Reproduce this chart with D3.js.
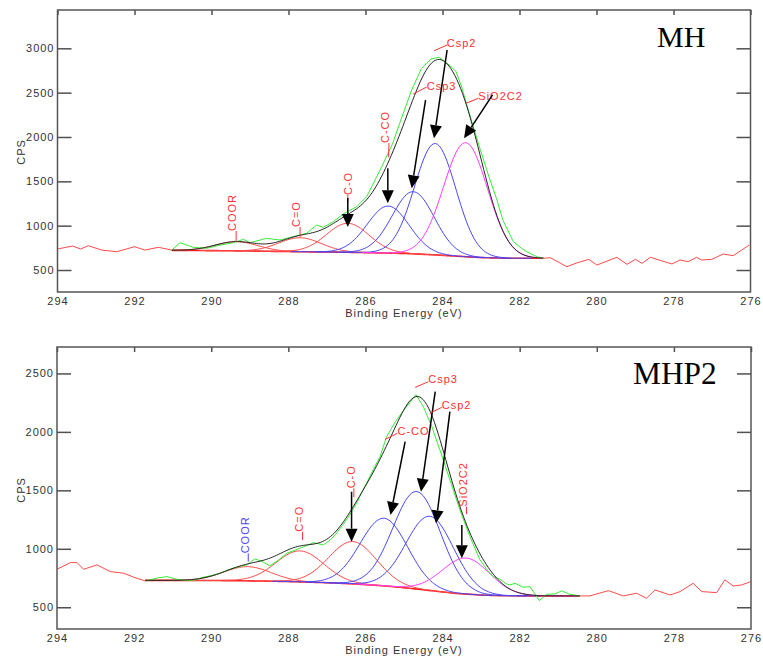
<!DOCTYPE html>
<html>
<head>
<meta charset="utf-8">
<script src="https://cdn.jsdelivr.net/npm/d3@7"></script>
<style>
body { margin: 0; background: #fff; }
</style>
</head>
<body>
<svg id="chart" width="763" height="660"></svg>
<script>
// ---- data ----
var xTicks = [294, 292, 290, 288, 286, 284, 282, 280, 278, 276];

// MH
var mhEnergy = [294.0, 293.61, 293.4, 293.2, 292.85, 292.46, 292.0, 291.73, 291.38, 291.03,
    290.82, 290.47, 290.12, 289.77, 289.43, 289.17, 289.0, 288.57, 288.22, 287.88,
    287.53, 287.27, 287.1, 286.84, 286.58, 286.23, 285.97, 285.62, 285.3, 285.05,
    284.8, 284.55, 284.3, 284.1, 283.9, 283.65, 283.5, 283.3, 283.05, 282.8,
    282.6, 282.43, 282.16, 281.95, 281.81, 281.55, 281.38, 281.2, 280.77, 280.5,
    280.2, 279.99, 279.47, 279.21, 278.99, 278.82, 278.6, 278.04, 277.83, 277.62,
    277.4, 277.27, 277.01, 276.71, 276.45, 276.03];
var mhCps = [737, 770, 737, 774, 725, 706, 763, 725, 756, 725,
    808, 756, 745, 782, 808, 846, 808, 857, 838, 876,
    914, 1007, 981, 1044, 1131, 1214, 1327, 1628, 1920, 2230,
    2530, 2770, 2880, 2900, 2840, 2740, 2560, 2260, 1900, 1560,
    1310, 1060, 820, 745, 706, 650, 632, 639, 537, 582,
    620, 556, 643, 564, 620, 575, 643, 568, 613, 594,
    643, 613, 620, 680, 662, 782];
var mhWindow = [281.38, 291.03];
var mhBgEnergy = [291.03, 289.5, 288.0, 286.5, 285.5, 284.9, 284.2, 283.6, 283.0, 282.3, 281.38];
var mhBgCps = [722, 717, 708, 700, 692, 685, 671, 655, 640, 633, 632];
var mhPeakName = ["COOR", "C=O", "C-O", "C-CO", "Csp3", "Csp2", "SiO2C2"];
var mhPeakCenter = [289.35, 287.70, 286.46, 285.41, 284.76, 284.19, 283.40];
var mhPeakHeight = [103, 157, 327, 530, 701, 1256, 1286];
var mhPeakFwhm = [1.3, 1.3, 1.3, 1.28, 1.28, 1.26, 1.34];
var mhYTicks = [500, 1000, 1500, 2000, 2500, 3000];

// MHP2
var mhp2Energy = [294.0, 293.65, 293.48, 293.31, 292.96, 292.62, 292.27, 292.01, 291.71, 291.4,
    291.15, 290.9, 290.64, 290.4, 290.21, 290.0, 289.77, 289.6, 289.43, 289.25,
    289.08, 288.87, 288.7, 288.48, 288.25, 288.04, 287.85, 287.7, 287.5, 287.35,
    287.09, 286.9, 286.75, 286.49, 286.23, 286.06, 285.8, 285.62, 285.45, 285.19,
    284.93, 284.69, 284.5, 284.28, 284.07, 283.81, 283.55, 283.29, 283.03, 282.8,
    282.68, 282.51, 282.35, 282.25, 282.12, 281.91, 281.73, 281.49, 281.3, 281.09,
    280.91, 280.7, 280.44, 280.18, 279.7, 279.31, 278.97, 278.71, 278.49, 278.1,
    277.84, 277.5, 277.28, 276.89, 276.68, 276.46, 276.24, 276.01];
var mhp2Cps = [825, 882, 882, 825, 862, 805, 791, 757, 725, 750,
    762, 740, 728, 735, 757, 770, 791, 815, 834, 850,
    862, 913, 895, 854, 905, 962, 985, 1005, 1030, 1053,
    1033, 1080, 1134, 1247, 1390, 1504, 1675, 1789, 1961, 2104,
    2217, 2318, 2217, 2046, 1847, 1590, 1333, 1104, 905, 800,
    762, 740, 700, 691, 705, 671, 676, 557, 611, 614,
    640, 611, 597, 597, 642, 597, 620, 577, 648, 605,
    634, 705, 634, 625, 734, 682, 691, 719];
var mhp2Window = [280.44, 291.71];
var mhp2BgEnergy = [291.71, 290.0, 289.0, 288.0, 287.0, 286.2, 285.5, 284.9, 284.3, 283.7, 283.0, 282.4, 281.2, 280.44];
var mhp2BgCps = [730, 729, 726, 720, 710, 698, 683, 664, 642, 620, 604, 598, 597, 597];
var mhp2PeakName = ["COOR", "C=O", "C-O", "C-CO", "Csp3", "Csp2", "SiO2C2"];
var mhp2PeakCenter = [289.06, 287.70, 286.33, 285.52, 284.67, 284.33, 283.39];
var mhp2PeakHeight = [121, 265, 362, 578, 834, 635, 308];
var mhp2PeakFwhm = [1.45, 1.45, 1.45, 1.45, 1.45, 1.45, 1.45];
var mhp2YTicks = [500, 1000, 1500, 2000, 2500];

// ---- styles ----
var RED = "#ff4a4a", BLUE = "#4646ff", MAGENTA = "#ff3cff", GREEN = "#35ee35";
var peakColor = [RED, RED, RED, BLUE, BLUE, BLUE, MAGENTA];
var SANS = "'Liberation Sans', Arial, sans-serif";
var SERIF = "'Liberation Serif', 'Times New Roman', serif";

// annotations in data units: label anchor, leader line, arrow
var mhNotes = [
    { text: "COOR", e: 289.36, c: 940, rot: true, leader: [289.36, 940, 289.36, 816] },
    { text: "C=O", e: 287.70, c: 985, rot: true, leader: [287.70, 985, 287.70, 872] },
    { text: "C-O", e: 286.35, c: 1346, rot: true, leader: [286.46, 1346, 286.46, 1256], arrow: [286.46, 1312, 286.46, 985] },
    { text: "C-CO", e: 285.38, c: 1932, rot: true, leader: [285.39, 1932, 285.40, 1774], arrow: [285.42, 1647, 285.42, 1252] },
    { text: "Csp3", e: 284.41, c: 2530, leader: [284.76, 2485, 284.41, 2564], arrow: [284.44, 2417, 284.80, 1421] },
    { text: "Csp2", e: 283.89, c: 3015, leader: [284.22, 2973, 283.88, 3037], arrow: [283.88, 2981, 284.22, 1985] },
    { text: "SiO2C2", e: 283.07, c: 2417, leader: [283.39, 2380, 283.07, 2436], arrow: [282.70, 2474, 283.44, 1985] }
];
var mhp2Notes = [
    { text: "COOR", e: 289.01, c: 961, rot: true, color: BLUE, leader: [289.04, 961, 289.04, 890] },
    { text: "C=O", e: 287.63, c: 1146, rot: true, leader: [287.63, 1146, 287.63, 1075] },
    { text: "C-O", e: 286.27, c: 1517, rot: true, leader: [286.30, 1517, 286.30, 1443], arrow: [286.36, 1488, 286.36, 1061] },
    { text: "C-CO", e: 285.17, c: 1973, leader: [285.49, 1936, 285.17, 1988], arrow: [284.97, 1916, 285.35, 1289] },
    { text: "Csp3", e: 284.37, c: 2418, leader: [284.71, 2381, 284.37, 2429], arrow: [284.19, 2344, 284.56, 1488] },
    { text: "Csp2", e: 284.02, c: 2196, leader: [284.33, 2159, 284.02, 2210], arrow: [283.81, 2173, 284.17, 1218] },
    { text: "SiO2C2", e: 283.37, c: 1360, rot: true, leader: [283.38, 1360, 283.38, 1298], arrow: [283.50, 1203, 283.50, 919] }
];

var panels = [
    { title: "MH", titleX: 657, titleY: 46.5, titleSize: 30, left: 57.5, right: 750.5, top: 10, bottom: 292,
      yDomain: [252, 3432], yTicks: mhYTicks, energy: mhEnergy, cps: mhCps, window: mhWindow,
      bgE: mhBgEnergy, bgC: mhBgCps, center: mhPeakCenter, height: mhPeakHeight, fwhm: mhPeakFwhm,
      notes: mhNotes, cpsY: 152 },
    { title: "MHP2", titleX: 633, titleY: 384, titleSize: 31.4, left: 57, right: 751, top: 347, bottom: 629,
      yDomain: [314, 2726], yTicks: mhp2YTicks, energy: mhp2Energy, cps: mhp2Cps, window: mhp2Window,
      bgE: mhp2BgEnergy, bgC: mhp2BgCps, center: mhp2PeakCenter, height: mhp2PeakHeight, fwhm: mhp2PeakFwhm,
      notes: mhp2Notes, cpsY: 490 }
];

var svg = d3.select("#chart");

function gauss(e, c, h, w) {
    return h * Math.exp(-4 * Math.LN2 * Math.pow((e - c) / w, 2));
}

function label(sel) {
    return sel.style("font-family", SANS).attr("font-size", 11).attr("letter-spacing", 1);
}

function drawPanel(p) {
    var x = d3.scaleLinear().domain([294, 276]).range([p.left, p.right]);
    var y = d3.scaleLinear().domain(p.yDomain).range([p.bottom, p.top]);
    var line = d3.line().x(d => x(d[0])).y(d => y(d[1]));
    var bg = d3.scaleLinear().domain(p.bgE).range(p.bgC);
    var lo = p.window[0], hi = p.window[1];

    var g = svg.append("g");

    // raw spectrum: red outside the fit window, green inside
    var pts = p.energy.map((e, i) => [e, p.cps[i]]);
    var i0 = pts.findIndex(d => d[0] <= hi + 1e-6);
    var i1 = pts.length - 1 - pts.slice().reverse().findIndex(d => d[0] >= lo - 1e-6);

    g.append("path").datum(pts.slice(0, i0 + 1)).attr("d", line)
        .attr("fill", "none").attr("stroke", RED).attr("stroke-width", 1);
    g.append("path").datum(pts.slice(i1)).attr("d", line)
        .attr("fill", "none").attr("stroke", RED).attr("stroke-width", 1);

    var grid = d3.range(hi, lo, -0.05);
    grid.push(lo);

    // background
    g.append("path").datum(grid.map(e => [e, bg(e)])).attr("d", line)
        .attr("fill", "none").attr("stroke", "#ff1e1e").attr("stroke-width", 1.6);

    // components
    p.center.forEach(function (c, k) {
        var w = p.fwhm[k];
        var part = grid.filter(e => e <= c + 2 * w && e >= c - 2 * w);
        g.append("path")
            .datum(part.map(e => [e, bg(e) + gauss(e, c, p.height[k], w)]))
            .attr("d", line)
            .attr("fill", "none").attr("stroke", peakColor[k]).attr("stroke-width", 1);
    });

    g.append("path").datum(pts.slice(i0, i1 + 1)).attr("d", line)
        .attr("fill", "none").attr("stroke", GREEN).attr("stroke-width", 1);

    // envelope
    var env = grid.map(function (e) {
        var s = bg(e);
        p.center.forEach(function (c, k) { s += gauss(e, c, p.height[k], p.fwhm[k]); });
        return [e, s];
    });
    g.append("path").datum(env).attr("d", line)
        .attr("fill", "none").attr("stroke", "#262626").attr("stroke-width", 1);

    // annotations
    p.notes.forEach(function (n) {
        var col = n.color || "#ff3030";
        var l = n.leader;
        g.append("line")
            .attr("x1", x(l[0])).attr("y1", y(l[1])).attr("x2", x(l[2])).attr("y2", y(l[3]))
            .attr("stroke", col).attr("stroke-width", 1);
        var t = g.append("text").text(n.text).attr("fill", col).call(label);
        if (n.rot) {
            t.attr("transform", "translate(" + x(n.e) + "," + y(n.c) + ") rotate(-90)");
        } else {
            t.attr("x", x(n.e)).attr("y", y(n.c));
        }
        if (n.arrow) {
            var a = n.arrow;
            var x1 = x(a[0]), y1 = y(a[1]), x2 = x(a[2]), y2 = y(a[3]);
            var ang = Math.atan2(y2 - y1, x2 - x1);
            var len = 13, half = 6;
            var bx = x2 - len * Math.cos(ang), by = y2 - len * Math.sin(ang);
            g.append("line").attr("x1", x1).attr("y1", y1).attr("x2", bx).attr("y2", by)
                .attr("stroke", "#000").attr("stroke-width", 1.5);
            var px = -Math.sin(ang) * half, py = Math.cos(ang) * half;
            g.append("path")
                .attr("d", "M" + x2 + "," + y2 + "L" + (bx + px) + "," + (by + py) + "L" + (bx - px) + "," + (by - py) + "Z")
                .attr("fill", "#000");
        }
    });

    // axes
    var yl = g.append("g").attr("transform", "translate(" + p.left + ",0)")
        .call(d3.axisLeft(y).tickValues(p.yTicks).tickSize(-14).tickPadding(3).tickFormat(d3.format("d")));
    var yr = g.append("g").attr("transform", "translate(" + p.right + ",0)")
        .call(d3.axisRight(y).tickValues(p.yTicks).tickSize(-14).tickFormat(""));
    var xt = g.append("g").attr("transform", "translate(0," + p.top + ")")
        .call(d3.axisTop(x).tickValues(xTicks).tickSize(-5).tickFormat(""));
    var xb = g.append("g").attr("transform", "translate(0," + p.bottom + ")")
        .call(d3.axisBottom(x).tickValues(xTicks).tickSize(0).tickPadding(5).tickFormat(d3.format("d")));

    [yl, yr, xt, xb].forEach(function (ax) {
        ax.select(".domain").remove();
        ax.selectAll("line").attr("stroke", "#505050").attr("stroke-width", 1.5);
        ax.selectAll("text").attr("fill", "#333").call(label);
    });

    g.append("rect")
        .attr("x", p.left).attr("y", p.top)
        .attr("width", p.right - p.left).attr("height", p.bottom - p.top)
        .attr("fill", "none").attr("stroke", "#555").attr("stroke-width", 1.5);

    g.append("text").text("CPS")
        .attr("transform", "translate(24.5," + p.cpsY + ") rotate(-90)")
        .attr("text-anchor", "middle").attr("fill", "#333").call(label);

    g.append("text").text("Binding Energy (eV)")
        .attr("x", 404).attr("y", p.bottom + 25)
        .attr("text-anchor", "middle").attr("fill", "#333").call(label);

    g.append("text").text(p.title)
        .attr("x", p.titleX).attr("y", p.titleY)
        .style("font-family", SERIF)
        .attr("font-size", p.titleSize).attr("fill", "#000");
}

panels.forEach(drawPanel);
</script>
</body>
</html>
